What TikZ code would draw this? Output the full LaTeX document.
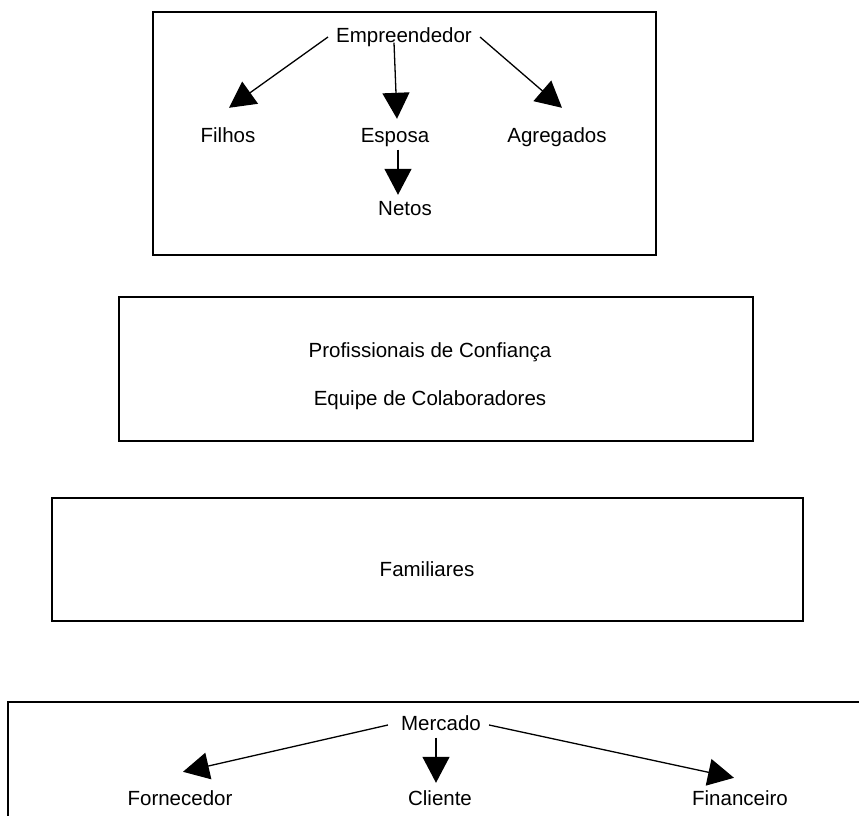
\documentclass[tikz,border=0pt]{standalone}
\usepackage{fontspec}
\setmainfont{Liberation Sans}
\usepackage{tikz}
\usetikzlibrary{arrows.meta, positioning, calc}

\begin{document}
\begin{tikzpicture}[
  x=1pt, y=-1pt,
  lbl/.style={font=\fontsize{20.5}{24}\selectfont, inner xsep=8pt, inner ysep=0pt, text height=15pt, text depth=4pt},
  frame/.style={draw, line width=2pt},
  arr/.style={-{Triangle[length=26pt,width=27pt]}, line width=1.3pt}
]
\useasboundingbox (0,0) rectangle (859,816);
% family box
\draw[frame] (153,12) rectangle (656,255);
\node[lbl] (emp) at (404,37) {Empreendedor};
\node[lbl] (filhos) at (228,137) {Filhos};
\node[lbl] (esposa) at (395,137) {Esposa};
\node[lbl] (agreg) at (557,137) {Agregados};
\node[lbl] (netos) at (405,210) {Netos};
\draw[arr] (emp.west) -- ([xshift=1pt,yshift=19.5pt]filhos.north);
\draw[arr] ([xshift=-10pt,yshift=4pt]emp.south) -- ([xshift=2pt,yshift=8.5pt]esposa.north);
\draw[arr] (emp.east) -- ([xshift=5pt,yshift=19.5pt]agreg.north);
\draw[arr] ([xshift=3pt,yshift=-3pt]esposa.south) -- ([xshift=-7pt,yshift=5.5pt]netos.north);
% professionals box
\draw[frame] (119,297) rectangle (753,441);
\node[lbl] (prof) at (430,352) {Profissionais de Confiança};
\node[lbl] (equipe) at (430,400) {Equipe de Colaboradores};
% relatives box
\draw[frame] (52,498) rectangle (803,621);
\node[lbl] (famil) at (427,571) {Familiares};
% market box
\draw[frame] (8,816) -- (8,702) -- (859,702);
\node[lbl] (merc) at (441,725) {Mercado};
\node[lbl] (forn) at (180,800) {Fornecedor};
\node[lbl] (cliente) at (440,800) {Cliente};
\node[lbl] (financ) at (740,800) {Financeiro};
\draw[arr] ([xshift=-5pt]merc.west) -- ([xshift=3pt,yshift=18.5pt]forn.north);
\draw[arr] ([xshift=-5pt,yshift=-3pt]merc.south) -- ([xshift=-4pt,yshift=7.5pt]cliente.north);
\draw[arr] (merc.east) -- ([xshift=-6pt,yshift=12.5pt]financ.north);
\end{tikzpicture}
\end{document}
